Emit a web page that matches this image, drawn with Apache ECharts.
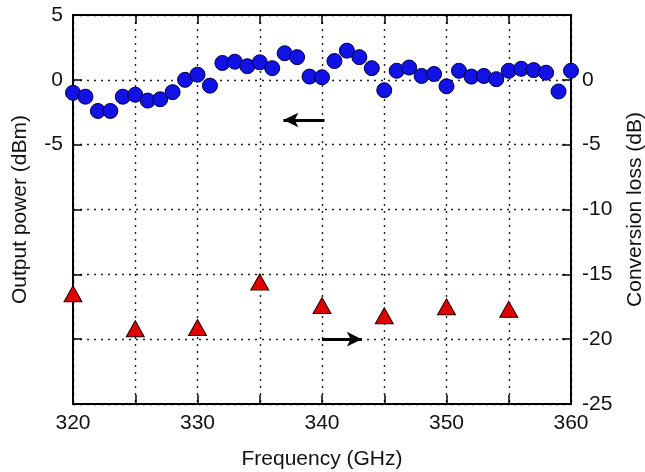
<!DOCTYPE html>
<html>
<head>
<meta charset="utf-8">
<script src="https://cdn.jsdelivr.net/npm/echarts@6/dist/echarts.min.js"></script>
<style>html,body{margin:0;padding:0;background:#fff}#c{width:645px;height:472px}</style>
</head>
<body>
<div id="c"></div>
<script>
// Output power (dBm), left axis, measured every 1 GHz
const powerFreq = [320,321,322,323,324,325,326,327,328,329,330,331,332,333,334,335,336,337,338,339,340,341,342,343,344,345,346,347,348,349,350,351,352,353,354,355,356,357,358,359,360];
const powerVals = [-1.0,-1.3,-2.4,-2.4,-1.3,-1.15,-1.6,-1.5,-0.95,0.0,0.4,-0.45,1.3,1.4,1.05,1.35,0.9,2.05,1.75,0.25,0.2,1.45,2.25,1.75,0.9,-0.8,0.7,0.95,0.3,0.45,-0.5,0.7,0.25,0.3,0.05,0.7,0.85,0.75,0.55,-0.9,0.7];
// Conversion loss (dB), right axis
const lossFreq = [320,325,330,335,340,345,350,355];
const lossVals = [-16.5,-19.2,-19.1,-15.6,-17.4,-18.2,-17.5,-17.7];
// annotation arrows [x0, x1, y]
const arrowLeft = [340.2, 336.9, -3.1];
const arrowRight = [340.0, 343.2, -20];
const leftTickLabels = [5, 0, -5];

const FONT = 'Liberation Sans';
const FS = 21;
const chart = echarts.init(document.getElementById('c'));
const dotted = {color:'#222', width:1.4, type:[2,5]};
chart.setOption({
  animation:false,
  grid:{left:73,right:74,top:15,bottom:68,outerBoundsMode:'none',containLabel:false,show:true,borderColor:'#000',borderWidth:2,backgroundColor:'transparent'},
  xAxis:[{
    type:'value',min:320,max:360,interval:5,
    name:'Frequency (GHz)',nameLocation:'middle',nameGap:45,
    nameTextStyle:{fontFamily:FONT,fontSize:FS,color:'#111'},
    axisLine:{onZero:false,lineStyle:{color:'#000',width:2}},
    axisTick:{inside:true,length:9,lineStyle:{color:'#000',width:1.5}},
    axisLabel:{fontFamily:FONT,fontSize:FS,color:'#111',margin:9,formatter:v=> v%10===0? String(v):''},
    splitLine:{show:true,lineStyle:dotted}
  },{
    type:'value',min:320,max:360,interval:5,position:'top',
    axisLine:{onZero:false,lineStyle:{color:'#000',width:2}},
    axisTick:{inside:true,length:9,lineStyle:{color:'#000',width:1.5}},
    axisLabel:{show:false},splitLine:{show:false}
  }],
  yAxis:[{
    type:'value',min:-25,max:5,interval:5,
    name:'Output power (dBm)',nameLocation:'middle',nameGap:42,nameRotate:90,
    nameTextStyle:{fontFamily:FONT,fontSize:FS,color:'#111'},
    axisLine:{show:true,onZero:false,lineStyle:{color:'#000',width:2}},
    axisTick:{show:true,inside:true,length:9,lineStyle:{color:'#000',width:1.5}},
    axisLabel:{fontFamily:FONT,fontSize:FS,color:'#111',margin:10,formatter:v=> leftTickLabels.includes(v)? String(v):''},
    splitLine:{show:true,lineStyle:dotted}
  },{
    type:'value',min:-25,max:5,interval:5,position:'right',
    name:'Conversion loss (dB)',nameLocation:'middle',nameGap:54,nameRotate:90,
    nameTextStyle:{fontFamily:FONT,fontSize:FS,color:'#111'},
    axisLine:{show:true,onZero:false,lineStyle:{color:'#000',width:2}},
    axisTick:{show:true,inside:true,length:9,lineStyle:{color:'#000',width:1.5}},
    axisLabel:{fontFamily:FONT,fontSize:FS,color:'#111',margin:11,formatter:v=> v===5? '':String(v)},
    splitLine:{show:false}
  }],
  series:[{
    type:'scatter',yAxisIndex:0,
    data:powerFreq.map((f,i)=>[f,powerVals[i]]),
    symbol:'circle',symbolSize:15,
    itemStyle:{color:'#1212e6',borderColor:'#00003a',borderWidth:1,opacity:1},
    markLine:{silent:true,symbol:['none','arrow'],symbolSize:[11,15],label:{show:false},
      lineStyle:{color:'#000',width:3,type:'solid'},
      data:[[{coord:[arrowLeft[0],arrowLeft[2]]},{coord:[arrowLeft[1],arrowLeft[2]]}]]}
  },{
    type:'scatter',yAxisIndex:1,
    data:lossFreq.map((f,i)=>[f,lossVals[i]]),
    symbol:'triangle',symbolSize:[18,16],
    itemStyle:{color:'#e00000',borderColor:'#200000',borderWidth:1,opacity:1},
    markLine:{silent:true,symbol:['none','arrow'],symbolSize:[11,15],label:{show:false},
      lineStyle:{color:'#000',width:3,type:'solid'},
      data:[[{coord:[arrowRight[0],arrowRight[2]]},{coord:[arrowRight[1],arrowRight[2]]}]]}
  }]
});
</script>
</body>
</html>
